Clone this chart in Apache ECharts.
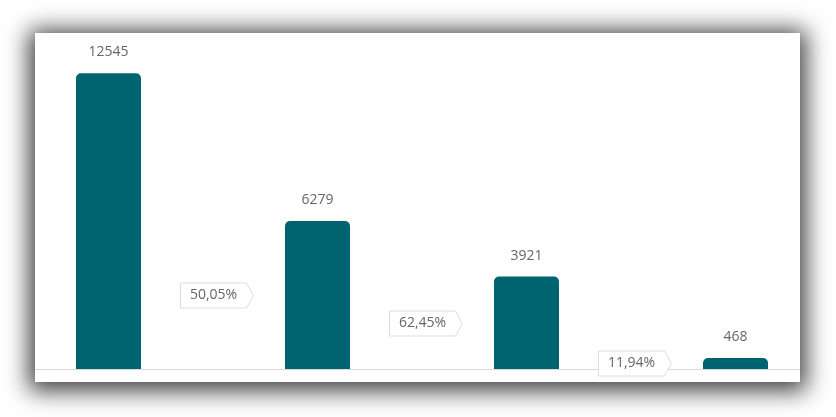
<!DOCTYPE html>
<html>
<head>
<meta charset="utf-8">
<script src="https://cdn.jsdelivr.net/npm/echarts@6/dist/echarts.min.js"></script>
<style>
  html, body { margin: 0; padding: 0; background: #fff; width: 836px; height: 417px; overflow: hidden; }
  #card { position: absolute; left: 35px; top: 33px; width: 765px; height: 349px; background: #fff;
          box-shadow: 0 3px 22px 6px rgba(0,0,0,0.75); }
  #chart { width: 765px; height: 349px; }
</style>
</head>
<body>
<div id="card"><div id="chart"></div></div>
<script>
// Funnel stages (bars) and conversion rates between consecutive stages
var stagePositions = [0, 2, 4, 6];
var stageValues = [12545, 6279, 3921, 468];
var conversionPositions = [1, 3, 5];
var conversionLabels = ['50,05%', '62,45%', '11,94%'];

var barData = stagePositions.map(function (x, i) { return [x, stageValues[i]]; });
var convData = conversionPositions.map(function (x, i) {
  return [x, stageValues[i + 1] / 2, conversionLabels[i]];
});

var chart = echarts.init(document.getElementById('chart'));
chart.setOption({
  animation: false,
  grid: { left: 0, right: 0, top: 6, bottom: 13 },
  xAxis: {
    type: 'value',
    min: -0.7033,
    max: 6.6172,
    axisLine: { show: true, lineStyle: { color: '#d9d9d9', width: 1 } },
    axisTick: { show: false },
    axisLabel: { show: false },
    splitLine: { show: false }
  },
  yAxis: {
    type: 'value',
    min: 0,
    max: 14000,
    show: false
  },
  series: [
    {
      type: 'bar',
      data: barData,
      barWidth: 65,
      itemStyle: { color: '#006370', borderRadius: [5, 5, 0, 0] },
      label: {
        show: true,
        position: 'top',
        distance: 14,
        color: '#666',
        fontFamily: 'Open Sans',
        fontSize: 14
      }
    },
    {
      type: 'custom',
      data: convData,
      z: 5,
      renderItem: function (params, api) {
        var p = api.coord([api.value(0), api.value(1)]);
        var cx = Math.round(p[0]) + 0.5, cy = Math.round(p[1]) + 0.5;
        var l = cx - 33, r = cx + 33, t = cy - 12.5, b = cy + 12.5;
        return {
          type: 'group',
          children: [
            {
              type: 'polygon',
              shape: { points: [[l, t], [r, t], [r + 7, cy], [r, b], [l, b]] },
              style: { fill: '#fff', stroke: '#dcdcdc', lineWidth: 1 }
            },
            {
              type: 'text',
              style: {
                x: cx, y: cy,
                text: conversionLabels[params.dataIndex],
                fill: '#666',
                font: '14px "Open Sans"',
                textAlign: 'center',
                textVerticalAlign: 'middle'
              }
            }
          ]
        };
      }
    }
  ]
});
</script>
</body>
</html>
